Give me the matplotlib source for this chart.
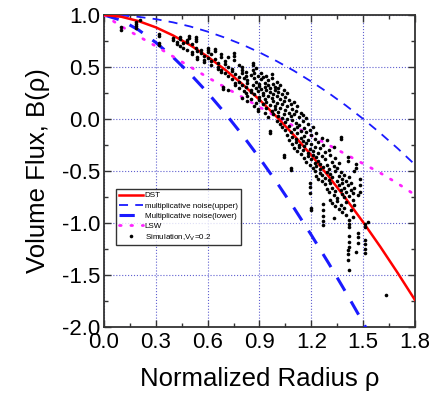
import numpy as np
import matplotlib.pyplot as plt
from matplotlib.ticker import MultipleLocator

plt.rcParams['font.family'] = ['Liberation Sans', 'DejaVu Sans']

# curves, rho step 0.1
rho = [0.0, 0.1, 0.2, 0.3, 0.4, 0.5, 0.6, 0.7, 0.8, 0.9, 1.0,
       1.1, 1.2, 1.3, 1.4, 1.5, 1.6, 1.7, 1.8]
dst = [1.0, 0.983, 0.941, 0.881, 0.803, 0.709, 0.599, 0.475, 0.337, 0.185, 0.02,
       -0.157, -0.348, -0.551, -0.766, -0.992, -1.23, -1.48, -1.74]
noise_upper = [1.0, 0.996, 0.982, 0.96, 0.929, 0.889, 0.84, 0.782, 0.716, 0.64, 0.556,
               0.463, 0.36, 0.25, 0.13, 0.001, -0.137, -0.283, -0.439]
noise_lower = [1.0, 0.949, 0.856, 0.735, 0.593, 0.431, 0.252, 0.057, -0.152, -0.375, -0.61,
               -0.857, -1.116, -1.386, -1.667, -1.958, -2.26, -2.56, -2.87]
lsw = [1.0, 0.89, 0.795, 0.70, 0.60, 0.50, 0.40, 0.305, 0.21, 0.115, 0.02,
       -0.07, -0.16, -0.25, -0.34, -0.43, -0.52, -0.62, -0.73]

# simulation points (rho, B), estimated from the scatter
sim_points = [
    (0.10, 0.86), (0.10, 0.88), (0.185, 0.93), (0.185, 0.91), (0.185, 0.89), (0.185, 0.87),
    (0.21, 0.95), (0.32, 0.82), (0.32, 0.80), (0.32, 0.73), (0.32, 0.71),
    (0.40, 0.78), (0.40, 0.76), (0.42, 0.74), (0.42, 0.72), (0.44, 0.79), (0.44, 0.77), (0.44, 0.70),
    (0.46, 0.73), (0.46, 0.68), (0.48, 0.76), (0.48, 0.74), (0.48, 0.66), (0.49, 0.80), (0.49, 0.78),
    (0.51, 0.72), (0.51, 0.64), (0.51, 0.62), (0.53, 0.79), (0.53, 0.77), (0.53, 0.75), (0.53, 0.68),
    (0.54, 0.60), (0.54, 0.58), (0.54, 0.65), (0.56, 0.66), (0.56, 0.63),
    (0.58, 0.61), (0.58, 0.55), (0.58, 0.57), (0.60, 0.68), (0.60, 0.66), (0.60, 0.64), (0.60, 0.59),
    (0.62, 0.62), (0.62, 0.56), (0.62, 0.52), (0.64, 0.67), (0.64, 0.65), (0.64, 0.58),
    (0.66, 0.54), (0.66, 0.50), (0.66, 0.48), (0.68, 0.62), (0.68, 0.60), (0.68, 0.47), (0.68, 0.45),
    (0.69, 0.31), (0.69, 0.29), (0.70, 0.56), (0.70, 0.53), (0.70, 0.44),
    (0.72, 0.60), (0.72, 0.50), (0.72, 0.41), (0.72, 0.28), (0.74, 0.48), (0.74, 0.46), (0.74, 0.38),
    (0.75, 0.63), (0.75, 0.61), (0.75, 0.57), (0.76, 0.43), (0.76, 0.35), (0.76, 0.33),
    (0.78, 0.52), (0.78, 0.40), (0.78, 0.36), (0.78, 0.30),
    (0.80, 0.50), (0.80, 0.47), (0.80, 0.44), (0.80, 0.33), (0.80, 0.20), (0.81, 0.39), (0.81, 0.27),
    (0.82, 0.45), (0.82, 0.41), (0.82, 0.31), (0.82, 0.25), (0.83, 0.37), (0.83, 0.35), (0.83, 0.22), (0.83, 0.17),
    (0.85, 0.42), (0.85, 0.28), (0.85, 0.26), (0.85, 0.19), (0.86, 0.54), (0.86, 0.52), (0.86, 0.47), (0.86, 0.33),
    (0.87, 0.44), (0.87, 0.39), (0.87, 0.24), (0.87, 0.12), (0.88, 0.49), (0.88, 0.36), (0.88, 0.30), (0.88, 0.15),
    (0.89, 0.41), (0.89, 0.27), (0.89, 0.10), (0.89, 0.08), (0.90, 0.34), (0.90, 0.32), (0.90, 0.21), (0.90, 0.18),
    (0.91, 0.44), (0.91, 0.38), (0.91, 0.29), (0.92, 0.40), (0.92, 0.25), (0.92, 0.23), (0.92, 0.14),
    (0.93, 0.35), (0.93, 0.31), (0.93, 0.19), (0.93, 0.06), (0.94, 0.41), (0.94, 0.28), (0.94, 0.16), (0.94, 0.11),
    (0.95, 0.37), (0.95, 0.33), (0.95, 0.22), (0.95, 0.02), (0.96, 0.30), (0.96, 0.26), (0.96, 0.13),
    (0.96, -0.12), (0.96, -0.14), (0.97, 0.43), (0.97, 0.39), (0.97, 0.20), (0.97, 0.08),
    (0.98, 0.34), (0.98, 0.24), (0.98, 0.17), (0.98, 0.05), (0.99, 0.31), (0.99, 0.28), (0.99, 0.12), (0.99, 0.10),
    (1.00, 0.36), (1.00, 0.22), (1.00, 0.15), (1.00, -0.02), (1.01, 0.30), (1.01, 0.26), (1.01, 0.07), (1.01, 0.03),
    (1.02, 0.33), (1.02, 0.19), (1.02, 0.11), (1.02, -0.05), (1.03, 0.24), (1.03, 0.14), (1.03, 0.01), (1.03, -0.08),
    (1.04, 0.28), (1.04, 0.17), (1.04, 0.05), (1.04, -0.37), (1.04, -0.35),
    (1.05, 0.21), (1.05, 0.09), (1.05, -0.03), (1.05, -0.11), (1.06, 0.25), (1.06, 0.12), (1.06, 0.00), (1.06, -0.15),
    (1.07, 0.18), (1.07, 0.06), (1.07, -0.07), (1.07, -0.20), (1.08, 0.14), (1.08, 0.03), (1.08, -0.13),
    (1.08, -0.49), (1.08, -0.47), (1.09, 0.10), (1.09, -0.01), (1.09, -0.17), (1.09, -0.24),
    (1.10, 0.16), (1.10, 0.05), (1.10, -0.10), (1.10, -0.28), (1.11, 0.08), (1.11, -0.04), (1.11, -0.19), (1.11, -0.22),
    (1.12, 0.12), (1.12, -0.08), (1.12, -0.14), (1.12, -0.31), (1.13, 0.02), (1.13, -0.06), (1.13, -0.25), (1.13, -0.27),
    (1.14, 0.06), (1.14, -0.12), (1.14, -0.18), (1.14, -0.34), (1.15, 0.04), (1.15, -0.02), (1.15, -0.21), (1.15, -0.30),
    (1.16, -0.09), (1.16, -0.16), (1.16, -0.26), (1.16, -0.38), (1.17, 0.01), (1.17, -0.13), (1.17, -0.23), (1.17, -0.41),
    (1.18, -0.05), (1.18, -0.20), (1.18, -0.33), (1.18, -0.36),
    (1.19, -0.11), (1.19, -0.29), (1.19, -0.44), (1.19, -0.62), (1.19, -0.65), (1.19, -0.71),
    (1.20, -0.15), (1.20, -0.24), (1.20, -0.39), (1.20, -0.86), (1.20, -0.88),
    (1.21, -0.08), (1.21, -0.31), (1.21, -0.35), (1.21, -0.47), (1.22, -0.19), (1.22, -0.27), (1.22, -0.42), (1.22, -0.50),
    (1.23, -0.14), (1.23, -0.37), (1.23, -0.45), (1.23, -0.55), (1.24, -0.22), (1.24, -0.33), (1.24, -0.40), (1.24, -0.58),
    (1.25, -0.28), (1.25, -0.43), (1.25, -0.48), (1.25, -0.52), (1.26, -0.18), (1.26, -0.36), (1.26, -0.54), (1.26, -0.60),
    (1.27, -0.25), (1.27, -0.46), (1.27, -0.82), (1.27, -0.88), (1.27, -0.93), (1.27, -0.98), (1.27, -1.02),
    (1.28, -0.32), (1.28, -0.39), (1.28, -0.57), (1.28, -0.63), (1.29, -0.20), (1.29, -0.44), (1.29, -0.51), (1.29, -0.67),
    (1.30, -0.30), (1.30, -0.48), (1.30, -0.59), (1.30, -0.70), (1.31, -0.35), (1.31, -0.53), (1.31, -0.62), (1.31, -0.78),
    (1.32, -0.41), (1.32, -0.56), (1.32, -0.66), (1.32, -0.81), (1.33, -0.27), (1.33, -0.45), (1.33, -0.73), (1.33, -0.95),
    (1.34, -0.38), (1.34, -0.50), (1.34, -0.69), (1.34, -0.84), (1.35, -0.47), (1.35, -0.60), (1.35, -0.76), (1.35, -0.79),
    (1.36, -0.42), (1.36, -0.55), (1.36, -0.64), (1.36, -0.87),
    (1.37, -0.17), (1.37, -0.19), (1.37, -0.51), (1.37, -0.68), (1.37, -0.83),
    (1.38, -0.58), (1.38, -0.62), (1.38, -0.72), (1.38, -0.90), (1.39, -0.54), (1.39, -0.66), (1.39, -0.75), (1.39, -0.86),
    (1.40, -0.60), (1.40, -0.70), (1.40, -0.80), (1.40, -0.92),
    (1.41, -0.37), (1.41, -0.40), (1.41, -0.64), (1.41, -1.26), (1.41, -1.30), (1.41, -1.36),
    (1.42, -0.56), (1.42, -0.74), (1.42, -0.97), (1.42, -1.01), (1.42, -1.04), (1.42, -1.13), (1.42, -1.18),
    (1.42, -1.23), (1.42, -1.45), (1.43, -0.62), (1.43, -0.68), (1.43, -0.88),
    (1.44, -0.71), (1.44, -0.78), (1.44, -0.94), (1.45, -0.50), (1.45, -0.66), (1.45, -0.83),
    (1.46, -0.43), (1.46, -0.47), (1.46, -1.28), (1.47, -1.10), (1.47, -1.14), (1.47, -1.19), (1.47, -0.73),
    (1.48, -0.58), (1.48, -0.64), (1.48, -0.70),
    (1.51, -1.01), (1.51, -1.04), (1.51, -1.16), (1.51, -1.20), (1.51, -1.25), (1.51, -1.29),
    (1.53, -0.99), (1.63, -1.69),
]
sim = np.array(sim_points)

fig = plt.figure(figsize=(4.39, 4.05), dpi=100)
ax = fig.add_axes([0.237, 0.193, 0.708, 0.770])

ax.plot(rho, dst, color='#ff0000', lw=1.8, label='DST', zorder=4)
ax.plot(rho, noise_upper, color='#1a1aff', lw=1.3, dashes=(5, 4),
        label='multiplicative noise(upper)', zorder=3)
ax.plot(rho, noise_lower, color='#1a1aff', lw=2.2, dashes=(5, 4),
        label='Multiplicative noise(lower)', zorder=3)
ax.plot(rho, lsw, color='#ff22ff', lw=2.0, linestyle=(0, (0.6, 3.5)),
        dash_capstyle='round', label='LSW', zorder=3)
ax.plot(sim[:, 0], sim[:, 1], 'o', color='black', ms=2.6, mew=0,
        label='Simulation,V$_\\mathrm{V}$=0.2', zorder=5)

ax.set_xlim(0, 1.8)
ax.set_ylim(-2.0, 1.0)
ax.xaxis.set_major_locator(MultipleLocator(0.3))
ax.xaxis.set_minor_locator(MultipleLocator(0.15))
ax.yaxis.set_major_locator(MultipleLocator(0.5))
ax.yaxis.set_minor_locator(MultipleLocator(0.25))
ax.xaxis.set_major_formatter(plt.FormatStrFormatter('%.1f'))
ax.yaxis.set_major_formatter(plt.FormatStrFormatter('%.1f'))

ax.grid(True, which='major', color='#6060d0', linestyle=':', lw=0.8)
ax.tick_params(which='both', direction='in', top=True, right=True,
               color='#333333', width=1.0, labelsize=16)
ax.tick_params(axis='x', pad=4)
ax.tick_params(axis='y', pad=3)
ax.tick_params(which='major', length=5)
ax.tick_params(which='minor', length=3)
for s in ax.spines.values():
    s.set_color('#333333')
    s.set_linewidth(1.3)

ax.set_xlabel('Normalized Radius ρ', fontsize=18.5, labelpad=10)
ax.set_ylabel('Volume Flux, B(ρ)', fontsize=18.5, labelpad=8)

leg = ax.legend(loc='upper left', bbox_to_anchor=(0.039, 0.442), fontsize=5.8,
                frameon=True, fancybox=False, edgecolor='black',
                borderpad=0.35, labelspacing=0.3, handlelength=3.0,
                handletextpad=0.2, borderaxespad=0)
leg.get_frame().set_linewidth(1.0)

fig.savefig('out.png', dpi=100)
